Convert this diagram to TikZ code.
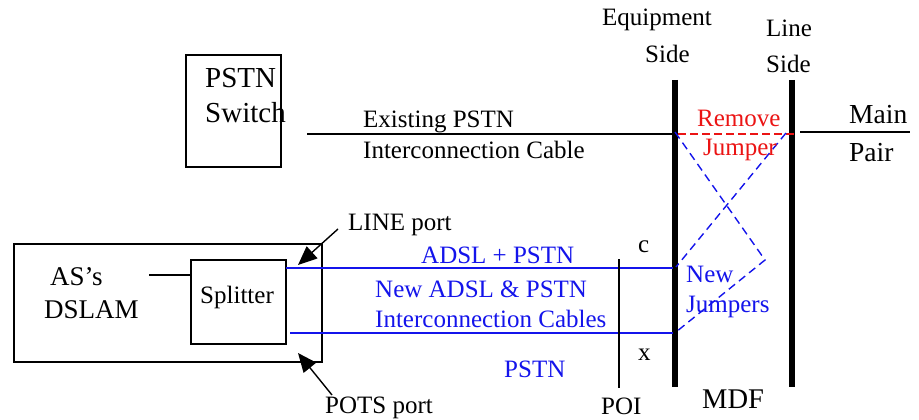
\documentclass[tikz,border=0pt]{standalone}
\usepackage{fontspec}
\setmainfont{Liberation Serif}
\usetikzlibrary{arrows.meta}
\definecolor{myblue}{RGB}{20,20,235}
\definecolor{myred}{RGB}{235,20,20}
\tikzset{
  box/.style={draw, line width=1.2pt, inner sep=0pt},
  bar/.style={line width=6pt},
  wire/.style={line width=1.2pt},
  bwire/.style={line width=1.6pt, draw=myblue},
  jump/.style={line width=1.4pt, draw=myblue, dash pattern=on 8pt off 5pt},
  rjump/.style={line width=1.2pt, draw=myred, dash pattern=on 8pt off 4pt},
  txt/.style={font=\fontsize{25}{28}\selectfont, inner sep=0pt, anchor=base west},
  big/.style={font=\fontsize{29}{32}\selectfont, inner sep=0pt, anchor=base west},
  btxt/.style={txt, text=myblue},
  rtxt/.style={txt, text=myred},
  ptr/.style={line width=1.4pt, -{Triangle[length=19pt,width=16pt]}}
}
\begin{document}
\begin{tikzpicture}[x=1pt,y=-1pt]
\useasboundingbox (0,0) rectangle (919,420);
% boxes
\draw[box] (186,55) rectangle (281,167);
\node[big] (psw1) at (205,88) {PSTN};
\node[big] (psw2) at (205,122) {Switch};
\draw[box] (14,244) rectangle (322,362);
\draw[box] (191,260) rectangle (286,344);
\node[txt] (spl) at (200,303) {Splitter};
\node[big, font=\fontsize{27}{30}\selectfont] (as1) at (50,285) {AS’s};
\node[big, font=\fontsize{27}{30}\selectfont] (as2) at (44,318) {DSLAM};
\coordinate (asw) at (149,275);
\coordinate (splw) at (191,275);
\draw[wire] (asw) -- (splw);
% bars
\coordinate (eqT) at (675,80);
\coordinate (eqB) at (675,387);
\coordinate (lsT) at (792,80);
\coordinate (lsB) at (792,387);
\draw[bar] (eqT) -- (eqB);
\draw[bar] (lsT) -- (lsB);
% existing cable
\coordinate (ex1) at (307,134);
\coordinate (ex2) at (673,134);
\draw[wire] (ex1) -- (ex2);
\coordinate (mp1) at (800,132);
\coordinate (mp2) at (910,132);
\draw[wire] (mp1) -- (mp2);
% remove jumper
\coordinate (rj1) at (678,134);
\coordinate (rj2) at (794,134);
\draw[rjump] (rj1) -- (rj2);
% new jumpers
\coordinate (j1) at (675,132);
\coordinate (j2) at (765,260);
\coordinate (j3) at (676,332);
\coordinate (j4) at (786,133);
\coordinate (j5) at (676,267);
\draw[jump] (j1) -- (j2) -- (j3);
\draw[jump] (j4) -- (j5);
% blue cables
\coordinate (c1a) at (286,268);
\coordinate (c1b) at (673,268);
\coordinate (c2a) at (290,333);
\coordinate (c2b) at (673,333);
\draw[bwire] (c1a) -- (c1b);
\draw[bwire] (c2a) -- (c2b);
% POI
\coordinate (poiT) at (619,259);
\coordinate (poiB) at (619,388);
\draw[wire] (poiT) -- (poiB);
% port arrows
\coordinate (lp0) at (338,229);
\coordinate (lp1) at (298,265);
\draw[ptr] (lp0) -- (lp1);
\coordinate (pp0) at (332,395);
\coordinate (pp1) at (298,353);
\draw[ptr] (pp0) -- (pp1);
% texts
\node[txt] (eq1) at (602,26) {Equipment};
\node[txt] (eq2) at (645,63) {Side};
\node[txt] (ls1) at (766,37) {Line};
\node[txt] (ls2) at (766,73) {Side};
\node[txt] (ex1t) at (363,127) {Existing PSTN};
\node[txt] (ex2t) at (363,158) {Interconnection Cable};
\node[rtxt] (rm1) at (697,126) {Remove};
\node[rtxt] (rm2) at (703,155) {Jumper};
\node[big, font=\fontsize{27.5}{30}\selectfont] (mn1) at (849,123) {Main};
\node[big, font=\fontsize{27.5}{30}\selectfont] (mn2) at (849,161) {Pair};
\node[txt] (lpt) at (348,230) {LINE port};
\node[txt] (ppt) at (325,413) {POTS port};
\node[btxt] (ad1) at (421,263) {ADSL + PSTN};
\node[btxt] (ad2) at (375,297) {New ADSL \& PSTN};
\node[btxt] (ad3) at (375,327) {Interconnection Cables};
\node[btxt] (ps) at (504,377) {PSTN};
\node[txt] (cc) at (638,252) {c};
\node[txt] (xx) at (638,360) {x};
\node[txt] (poi) at (601,414) {POI};
\node[btxt] (nw1) at (686,282) {New};
\node[btxt] (nw2) at (686,312) {Jumpers};
\node[big, font=\fontsize{28.5}{31}\selectfont] (mdf) at (702,408) {MDF};
\end{tikzpicture}
\end{document}
